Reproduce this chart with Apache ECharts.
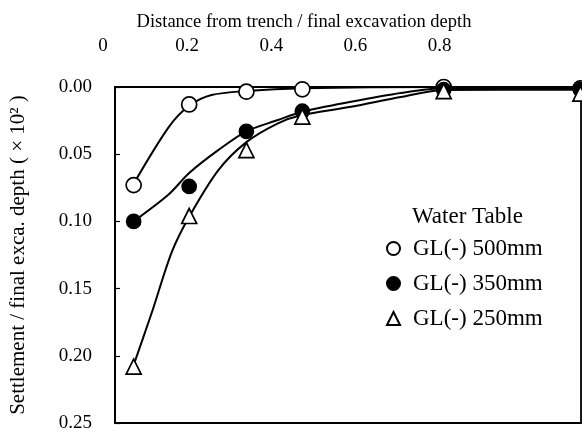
<!DOCTYPE html>
<html>
<head>
<meta charset="utf-8">
<script src="https://cdn.jsdelivr.net/npm/echarts@6/dist/echarts.min.js"></script>
<style>
  html, body { margin: 0; padding: 0; background: #fff; }
  #chart { width: 582px; height: 434px; }
</style>
</head>
<body>
<div id="chart"></div>
<script>
// measured points (distance / depth, settlement / depth)
const distX = [0.068, 0.200, 0.336, 0.469, 0.805, 1.13];
const gl500 = [0.073, 0.013, 0.0035, 0.0017, 0.000, 0.001];
const gl350 = [0.100, 0.074, 0.033, 0.018, 0.002, 0.002];
const gl250 = [0.208, 0.096, 0.047, 0.022, 0.003, 0.005];

// fitted curves
const curve500X = [0.068, 0.151, 0.200, 0.253, 0.336, 0.469, 0.805, 1.13];
const curve500Y = [0.072, 0.030, 0.014, 0.006, 0.003, 0.001, 0.000, 0.000];
const curve350X = [0.068, 0.151, 0.200, 0.269, 0.336, 0.411, 0.469, 0.585, 0.703, 0.805, 1.13];
const curve350Y = [0.100, 0.080, 0.064, 0.047, 0.033, 0.0246, 0.0184, 0.011, 0.0045, 0.001, 0.001];
const curve250X = [0.069, 0.111, 0.159, 0.200, 0.269, 0.336, 0.411, 0.466, 0.585, 0.703, 0.805, 1.13];
const curve250Y = [0.206, 0.168, 0.1225, 0.0965, 0.062, 0.041, 0.027, 0.021, 0.0147, 0.0074, 0.0022, 0.002];

const seriesNames = ['GL(-) 500mm', 'GL(-) 350mm', 'GL(-) 250mm'];
const xTicks = [0, 0.2, 0.4, 0.6, 0.8];

const font = '"Liberation Serif", "Times New Roman", serif';

function pairs(xs, ys){
    let out = [];
    for(let i in xs){
        out.push([xs[i], ys[i]]);
    }
    return out;
}

function fnc_curve(xs, ys){
    return {
        type: 'line',
        xAxisIndex: 0, yAxisIndex: 0,
        data: pairs(xs, ys),
        smooth: 0.3,
        showSymbol: false,
        silent: true,
        lineStyle: { color: '#000', width: 2 },
        z: 2
    };
}

function fnc_points(name, ys, symbol, fill, size){
    return {
        type: 'scatter',
        name: name,
        xAxisIndex: 0, yAxisIndex: 0,
        data: pairs(distX, ys),
        symbol: symbol,
        symbolSize: size,
        itemStyle: { color: fill, borderColor: '#000', borderWidth: 1.7, opacity: 1 },
        z: 5
    };
}

let chart = echarts.init(document.getElementById('chart'), null, { renderer: 'canvas' });

chart.setOption({
    animation: false,
    backgroundColor: '#fff',
    textStyle: { fontFamily: font, color: '#000' },
    grid: [
        { left: 113, top: 87, right: 1, bottom: 11, show: true, borderColor: '#000', borderWidth: 1.8, backgroundColor: 'transparent' },
        { left: 103, top: 87, right: 1, bottom: 11, show: false }
    ],
    xAxis: [
        {
            type: 'value', gridIndex: 0, position: 'top',
            min: 0.02367, max: 1.1314,
            axisLine: { show: true, lineStyle: { color: '#000', width: 2 } },
            axisTick: { show: false },
            axisLabel: { show: false },
            splitLine: { show: false }
        },
        {
            type: 'value', gridIndex: 1, position: 'top',
            min: 0, max: 1.1314, interval: 0.2,
            axisLine: { show: false },
            axisTick: { show: false },
            splitLine: { show: false },
            axisLabel: {
                margin: 31,
                fontSize: 19,
                fontFamily: font,
                color: '#000',
                formatter: function(v){
                    return xTicks.indexOf(Math.round(v * 10) / 10) == -1 ? '' : String(Math.round(v * 10) / 10);
                }
            }
        }
    ],
    yAxis: [
        {
            type: 'value', gridIndex: 0, inverse: true,
            min: 0, max: 0.25, interval: 0.05,
            name: 'Settlement / final exca. depth ( \u00d7 10\u00b2 )',
            nameLocation: 'middle',
            nameGap: 86,
            nameTextStyle: { fontSize: 21, fontFamily: font, color: '#000' },
            axisLine: { show: true, lineStyle: { color: '#000', width: 1.8 } },
            axisTick: { show: true, inside: true, length: 5, lineStyle: { color: '#000', width: 1.2 } },
            axisLabel: {
                margin: 23, fontSize: 19, fontFamily: font, color: '#000',
                formatter: function(v){ return v.toFixed(2); }
            },
            splitLine: { show: false }
        },
        { type: 'value', gridIndex: 1, show: false, min: 0, max: 0.25 }
    ],
    legend: {
        orient: 'vertical',
        left: 386, top: 237,
        padding: 0,
        itemWidth: 13, itemHeight: 13, itemGap: 12,
        data: seriesNames,
        textStyle: { fontSize: 23, lineHeight: 23, fontFamily: font, color: '#000', padding: [0, 0, 0, 8] },
        selectedMode: false
    },
    graphic: [
        {
            type: 'text', left: 412, top: 205,
            style: { text: 'Water Table', fontSize: 23, fontFamily: font, fill: '#000' }
        },
        {
            type: 'text', x: 304, y: 22,
            style: {
                text: 'Distance from trench / final excavation depth',
                fontSize: 18.5, fontFamily: font, fill: '#000',
                textAlign: 'center', textVerticalAlign: 'middle'
            }
        }
    ],
    series: [
        fnc_curve(curve500X, curve500Y),
        fnc_curve(curve350X, curve350Y),
        fnc_curve(curve250X, curve250Y),
        fnc_points(seriesNames[0], gl500, 'circle', '#fff', 15),
        fnc_points(seriesNames[1], gl350, 'circle', '#000', 14),
        fnc_points(seriesNames[2], gl250, 'triangle', '#fff', 15)
    ]
});
</script>
</body>
</html>
